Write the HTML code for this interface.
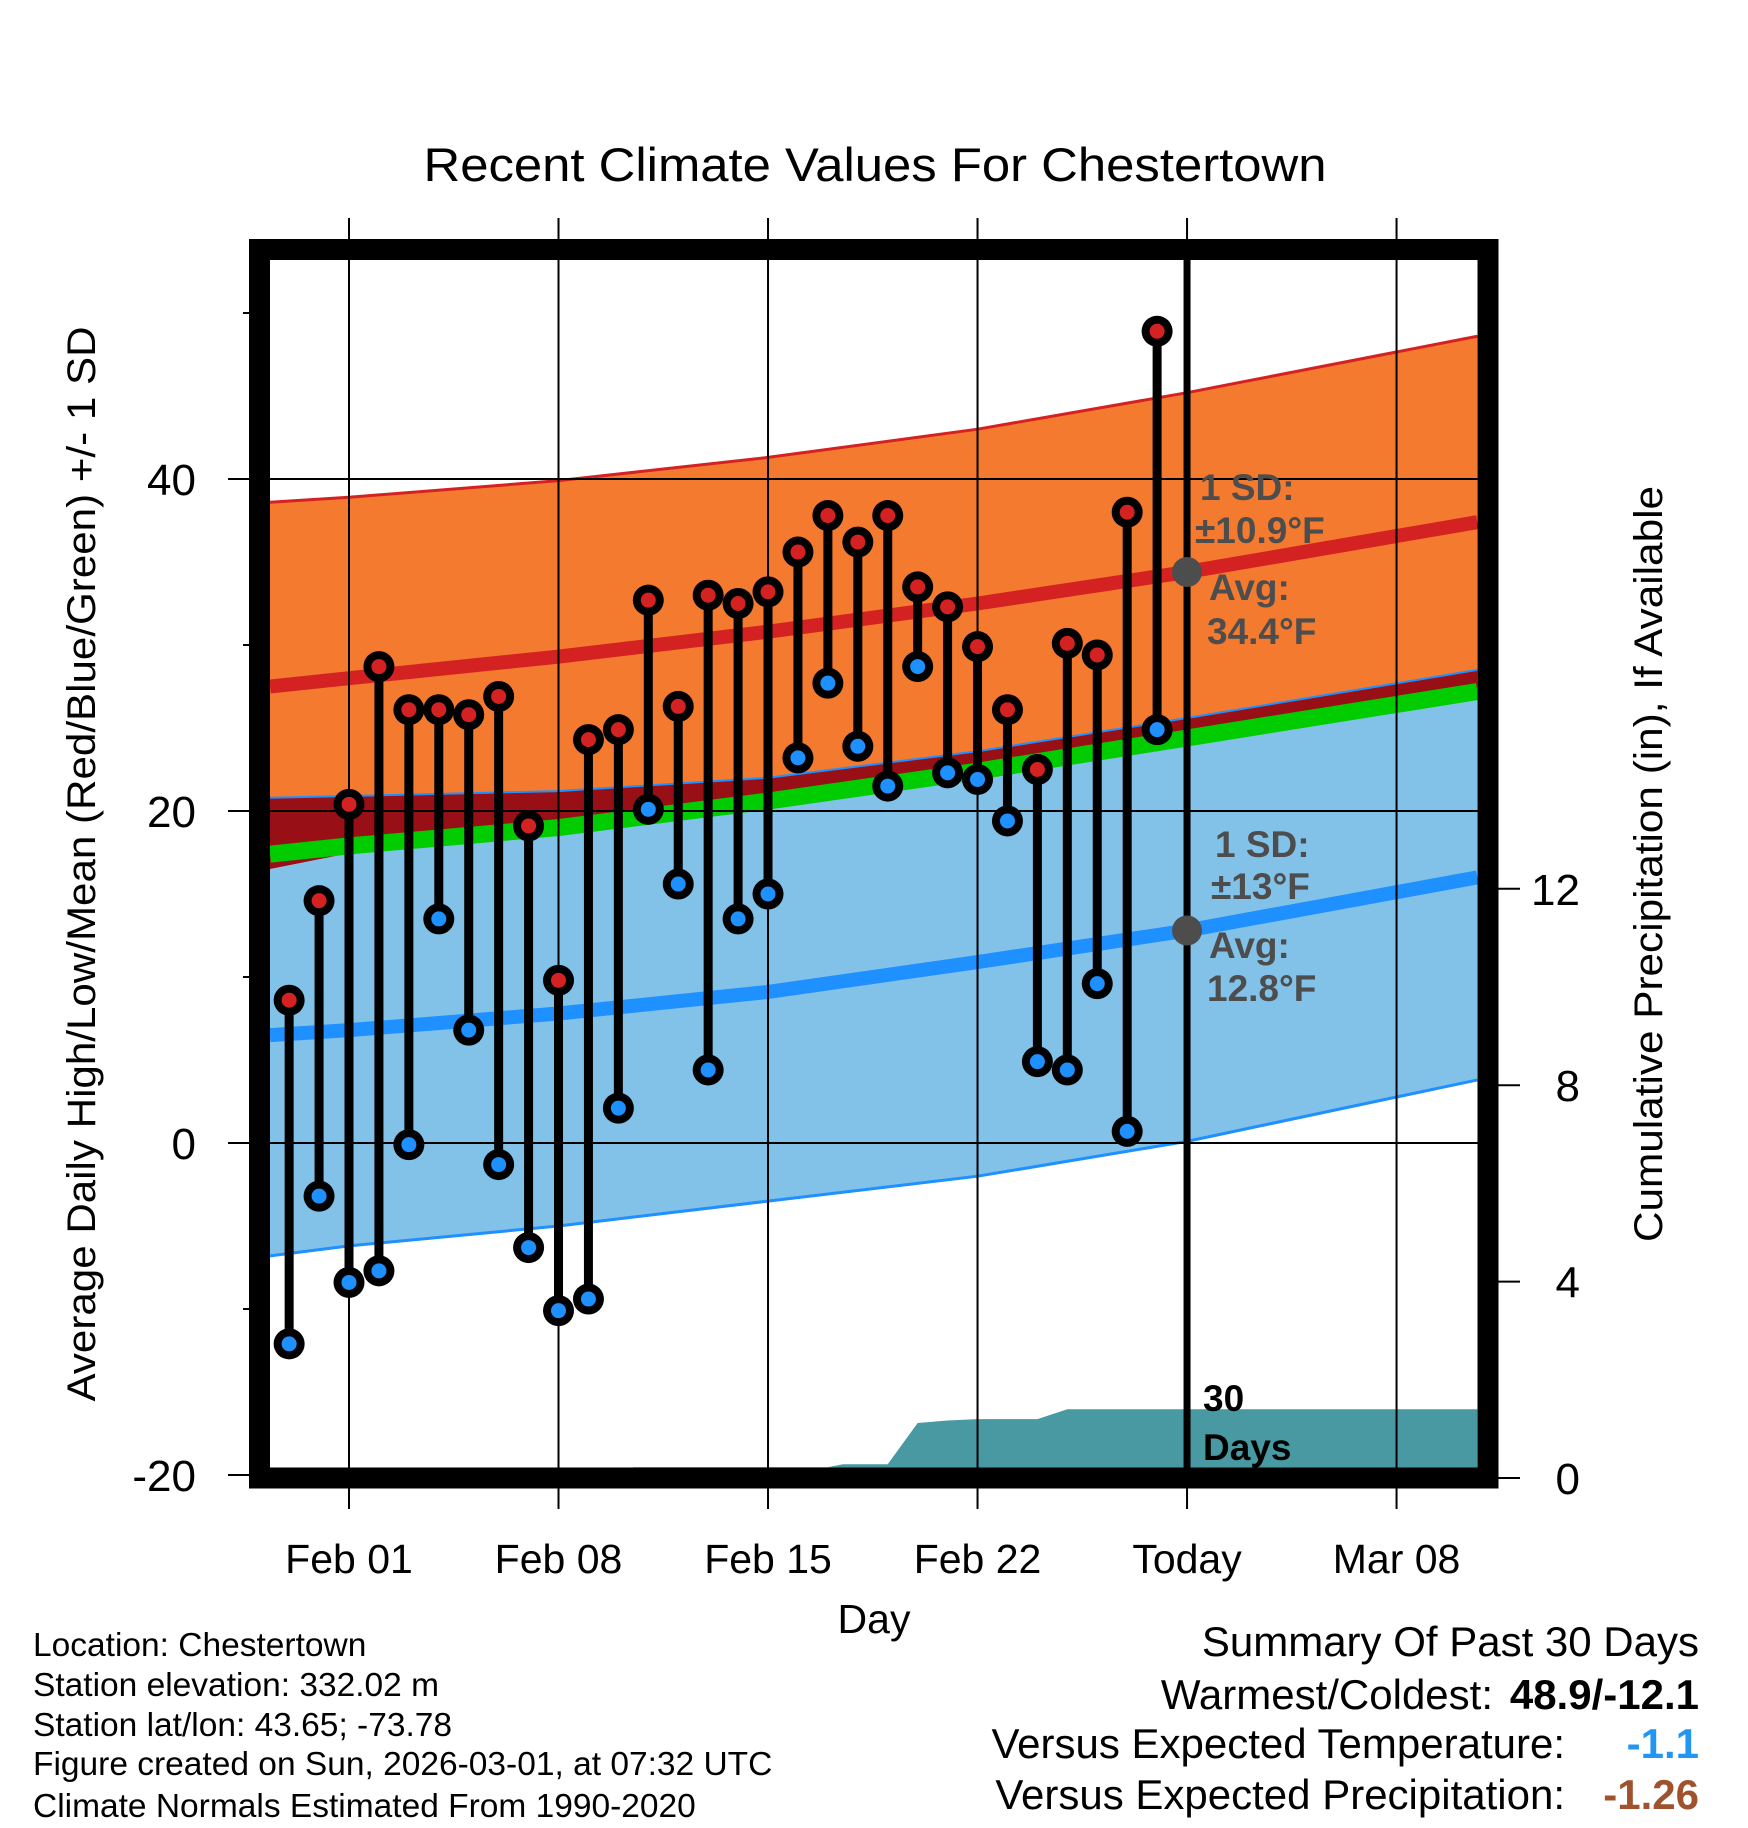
<!DOCTYPE html>
<html><head><meta charset="utf-8"><style>
html,body{margin:0;padding:0;background:#fff;}
svg{display:block;font-family:"Liberation Sans",sans-serif;}
</style></head><body>
<svg id="chart" width="1748" height="1828" viewBox="0 0 1748 1828" xmlns="http://www.w3.org/2000/svg">
<text x="875" y="181" text-anchor="middle" font-size="47" textLength="903" lengthAdjust="spacingAndGlyphs">Recent Climate Values For Chestertown</text>
<g id="plot"></g>
<text x="874" y="1633" text-anchor="middle" font-size="41">Day</text>
<text transform="translate(95,864) rotate(-90)" text-anchor="middle" font-size="40" textLength="1075" lengthAdjust="spacingAndGlyphs">Average Daily High/Low/Mean (Red/Blue/Green) +/- 1 SD</text>
<text transform="translate(1662,864) rotate(-90)" text-anchor="middle" font-size="40" textLength="756" lengthAdjust="spacingAndGlyphs">Cumulative Precipitation (in), If Available</text>
<g font-size="33.5">
<text x="33" y="1656">Location: Chestertown</text>
<text x="33" y="1696">Station elevation: 332.02 m</text>
<text x="33" y="1736">Station lat/lon: 43.65; -73.78</text>
<text x="33" y="1775">Figure created on Sun, 2026-03-01, at 07:32 UTC</text>
<text x="33" y="1817">Climate Normals Estimated From 1990-2020</text>
</g>
<g font-size="42">
<text x="1699" y="1656" text-anchor="end">Summary Of Past 30 Days</text>
<text x="1493" y="1709" text-anchor="end">Warmest/Coldest:</text>
<text x="1699" y="1709" text-anchor="end" font-weight="bold">48.9/-12.1</text>
<text x="1565" y="1758" text-anchor="end">Versus Expected Temperature:</text>
<text x="1699" y="1758" text-anchor="end" font-weight="bold" fill="#2196f3">-1.1</text>
<text x="1565" y="1809" text-anchor="end">Versus Expected Precipitation:</text>
<text x="1699" y="1809" text-anchor="end" font-weight="bold" fill="#a0522d">-1.26</text>
</g>
</svg>
<script>
// ---- data ----
const dayLabels = ["Feb 01","Feb 08","Feb 15","Feb 22","Today","Mar 08"];
const dayTicks = [1,8,15,22,29,36];
const obsDays = [-1,0,1,2,3,4,5,6,7,8,9,10,11,12,13,14,15,16,17,18,19,20,21,22,23,24,25,26,27,28];
const highs = [8.6,14.6,20.4,28.7,26.1,26.1,25.8,26.9,19.1,9.8,24.3,24.9,32.7,26.3,33.0,32.5,33.2,35.6,37.8,36.2,37.8,33.5,32.3,29.9,26.1,22.5,30.1,29.4,38.0,48.9];
const lows = [-12.1,-3.2,-8.4,-7.7,-0.1,13.5,6.8,-1.3,-6.3,-10.1,-9.4,2.1,20.1,15.6,4.4,13.5,15.0,23.2,27.7,23.9,21.5,28.7,22.3,21.9,19.4,4.9,4.4,9.6,0.7,24.9];
const normDays = [-1.64,1,8,15,22,29,38.7];
const hiUpper = [38.6,38.9,39.9,41.3,43.0,45.2,48.6];
const hiMean = [27.5,28.0,29.3,30.8,32.5,34.4,37.4];
const loUpper = [20.8,20.9,21.2,22.0,23.6,25.6,28.5];
const hiLower = [16.5,17.45,18.55,20.15,21.95,23.95,26.75];
const avgMean = [17.4,17.9,19.0,20.6,22.4,24.4,27.2];
const loMean = [6.5,6.8,7.8,9.1,10.9,12.8,16.0];
const loLower = [-6.8,-6.2,-5.0,-3.5,-2.0,0.1,3.8];
const precipDays = [-1.64,10,10.5,17,17.5,19,20,21,22,24,25,28,38.7];
const precip = [0,0,0.22,0.22,0.28,0.28,1.12,1.17,1.2,1.2,1.4,1.4,1.4];
const yTicks = [40,20,0,-20];
const yMinor = [50,30,10,-10];
const y2Ticks = [0,4,8,12];
const todayDay = 29;
const hiAvgNow = 34.4, loAvgNow = 12.8;

// ---- axes ----
const X0 = 349, DX = 29.93;
const xs = d => X0 + (d-1)*DX;
const ys = v => 1143 - v*16.6;
const ys2 = p => 1478 - p*49.1;
const L=270,R=1478,T=260,B=1468;
const NS="http://www.w3.org/2000/svg";
const plot=document.getElementById('plot');
function mk(tag,attrs,parent){const e=document.createElementNS(NS,tag);for(const k in attrs)e.setAttribute(k,attrs[k]);(parent||plot).appendChild(e);return e;}
const clip=mk('clipPath',{id:'pc'});mk('rect',{x:L,y:T,width:R-L,height:B-T},clip);
const g=mk('g',{'clip-path':'url(#pc)'});
(function(){
 const P=g;
 function bandG(u,l,f,n){let pts=normDays.map((d,i)=>xs(d)+','+ys(u[i]));for(let i=normDays.length-1;i>=0;i--)pts.push(xs(normDays[i])+','+ys(l[i]));const e=mk('polygon',{points:pts.join(' '),fill:f},P);
  
  }
 function lineG(v,s,w,n){const e=mk('polyline',{points:normDays.map((d,i)=>xs(d)+','+ys(v[i])).join(' '),fill:'none',stroke:s,'stroke-width':w},P);
  
  }
 bandG(hiUpper,loUpper,'#f47a30','high-sd-band');
 bandG(loUpper,hiLower,'#980f16','overlap-band');
 bandG(hiLower,loLower,'#82c1e8','low-sd-band');
 lineG(avgMean,'#00cc00',17,'mean-line');
 lineG(hiUpper,'#d42222',3,'high-upper-line');
 lineG(loUpper,'#1e90ff',2,'low-upper-line');
 lineG(loLower,'#1e90ff',3,'low-lower-line');
 lineG(hiMean,'#d42222',14,'high-mean-line');
 lineG(loMean,'#1e90ff',14,'low-mean-line');
 let pp=precipDays.map((d,i)=>xs(d)+','+ys2(precip[i]));
 pp.push(xs(precipDays[precipDays.length-1])+','+ys2(0));pp.push(xs(precipDays[0])+','+ys2(0));
 const pe=mk('polygon',{points:pp.join(' '),fill:'#4899a2'},P);
 
 
})();
// grid
dayTicks.forEach((d,i)=>{
 const gl=mk('line',{x1:xs(d),x2:xs(d),y1:218,y2:1509,stroke:'#000','stroke-width':2});
 
 
 const t=mk('text',{x:xs(d),y:1573,'text-anchor':'middle','font-size':41});
 t.textContent=dayLabels[i];
 
 
});
yTicks.forEach(v=>{
 const gl=mk('line',{x1:228,x2:R,y1:ys(v),y2:ys(v),stroke:'#000','stroke-width':2});
 
 
 const t=mk('text',{x:196,y:ys(v)+16,'text-anchor':'end','font-size':44});
 t.textContent=v;
 
 
});
yMinor.forEach(v=>{
 const tk=mk('line',{x1:243,x2:252,y1:ys(v),y2:ys(v),stroke:'#000','stroke-width':2});
 
 
});
y2Ticks.forEach(p=>{
 const tk=mk('line',{x1:1490,x2:1520,y1:ys2(p),y2:ys2(p),stroke:'#000','stroke-width':2});
 
 
 const t=mk('text',{x:1580,y:ys2(p)+16,'text-anchor':'end','font-size':44});
 t.textContent=p;
 
 
});
// today line
const tl=mk('line',{x1:xs(todayDay),x2:xs(todayDay),y1:T,y2:B,stroke:'#000','stroke-width':7});


// observations
obsDays.forEach((d,i)=>{
 const x=xs(d);
 const s=mk('line',{x1:x,x2:x,y1:ys(highs[i]),y2:ys(lows[i]),stroke:'#000','stroke-width':9});
 
 
 [[highs[i],'#d42222','high-point'],[lows[i],'#1e90ff','low-point']].forEach(([v,c,n])=>{
  const o=mk('circle',{cx:x,cy:ys(v),r:15.5,fill:'#000'});
  
  
  const p=mk('circle',{cx:x,cy:ys(v),r:7.5,fill:c});
  
  
 });
});
// avg markers & annotations
[[hiAvgNow,'high-avg-marker'],[loAvgNow,'low-avg-marker']].forEach(([v,n])=>{
 const c=mk('circle',{cx:xs(todayDay),cy:ys(v),r:15,fill:'#4d4d4d'});
 
 
});
const ann=[[1200,500,'1 SD:'],[1195,543,'±10.9°F'],[1209,600,'Avg:'],[1207,644,hiAvgNow+'°F'],[1215,857,'1 SD:'],[1211,899,'±13°F'],[1209,958,'Avg:'],[1207,1001,loAvgNow+'°F']];
ann.forEach(a=>{
 const t=mk('text',{x:a[0],y:a[1],'font-size':37,'font-weight':'bold',fill:'#4d4d4d'});
 t.textContent=a[2];
 
 
});
[['30',1411],['Days',1460]].forEach(a=>{
 const t=mk('text',{x:1203,y:a[1],'font-size':37,'font-weight':'bold',fill:'#000'});
 t.textContent=a[0];
 
 
});
// frame
const fr=mk('rect',{x:259.5,y:249.5,width:1228.5,height:1228.5,fill:'none',stroke:'#000','stroke-width':21});


</script>
</body></html>
